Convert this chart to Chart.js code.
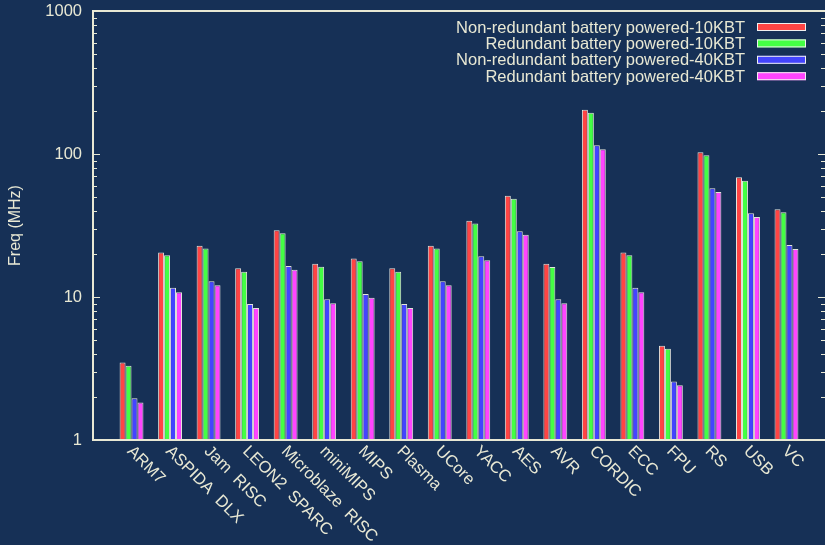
<!DOCTYPE html>
<html>
<head>
<meta charset="utf-8">
<script src="https://cdn.jsdelivr.net/npm/chart.js@4"></script>
<style>
  html, body { margin: 0; padding: 0; background: #163056; }
  #wrap { position: relative; width: 825px; height: 545px; }
</style>
</head>
<body>
<div id="wrap"><canvas id="chart"></canvas></div>
<script>
const categories = ['ARM7', 'ASPIDA DLX', 'Jam RISC', 'LEON2 SPARC', 'Microblaze RISC', 'miniMIPS', 'MIPS', 'Plasma',
  'UCore', 'YACC', 'AES', 'AVR', 'CORDIC', 'ECC', 'FPU', 'RS', 'USB', 'VC'];

const nonRed10 = [3.49, 20.5, 22.8, 15.9, 29.3, 17.1, 18.6, 15.9, 22.8, 34.2, 51.1, 17.1, 204, 20.5, 4.57, 102.8, 68.7, 41.1];
const red10    = [3.31, 19.6, 21.8, 15.0, 27.9, 16.3, 17.8, 15.0, 21.8, 32.6, 48.7, 16.2, 194.5, 19.6, 4.35, 97.9, 65.1, 39.1];
const nonRed40 = [1.96, 11.6, 12.9, 8.93, 16.5, 9.64, 10.5, 8.93, 12.9, 19.3, 28.8, 9.64, 115, 11.6, 2.56, 57.5, 38.5, 23.1];
const red40    = [1.83, 10.8, 12.1, 8.38, 15.5, 9.04, 9.89, 8.38, 12.1, 18.1, 27.2, 9.04, 108, 10.8, 2.41, 54.2, 36.3, 21.7];

const seriesLabels = ['Non-redundant battery powered-10KBT', 'Redundant battery powered-10KBT',
  'Non-redundant battery powered-40KBT', 'Redundant battery powered-40KBT'];
const yTicks = [1, 10, 100, 1000];

const COLORS = ['#ff4444', '#44ff44', '#4444ff', '#ff44ff'];
const INK = '#e8e8d4';
const FONT = 'Liberation Sans, Arial, sans-serif';

// one empty slot at each end so the groups sit like the gnuplot xrange
const pad = (arr) => [null, ...arr, null];

const frame = {
  id: 'frame',
  afterDraw(chart) {
    const { ctx, chartArea: a, scales: { x, y } } = chart;
    ctx.save();
    ctx.strokeStyle = INK;
    ctx.lineWidth = 2;
    ctx.strokeRect(a.left, a.top, a.right - a.left + 2, a.bottom - a.top);

    // inward ticks on both vertical sides
    ctx.lineWidth = 1;
    for (let d = 1; d < 1000; d *= 10) {
      for (let m = 1; m <= 10; m++) {
        const v = d * m;
        const py = Math.round(y.getPixelForValue(v)) + 0.5;
        const len = m === 1 || m === 10 ? 7 : 4;
        ctx.beginPath();
        ctx.moveTo(a.left, py); ctx.lineTo(a.left + len, py);
        ctx.moveTo(a.right, py); ctx.lineTo(a.right - len, py);
        ctx.stroke();
      }
    }

    // rotated category labels
    ctx.fillStyle = INK;
    ctx.font = '16.5px ' + FONT;
    ctx.textAlign = 'left';
    ctx.textBaseline = 'alphabetic';
    categories.forEach((c, i) => {
      const px = x.getPixelForValue(i + 1);
      ctx.save();
      ctx.translate(px - 5, a.bottom + 12);
      ctx.rotate(Math.PI / 4);
      ctx.fillText(c.replace(' ', '  '), 0, 0);
      ctx.restore();
    });

    // legend, text right-aligned with the swatch on its right
    ctx.textAlign = 'right';
    chart.data.datasets.forEach((ds, i) => {
      const cy = 27 + i * 16.4;
      ctx.fillStyle = INK;
      ctx.fillText(ds.label, 745, cy + 5.5);
      ctx.fillStyle = ds.backgroundColor;
      ctx.fillRect(757, cy - 4, 49, 8);
      ctx.strokeStyle = '#f0f0f0';
      ctx.strokeRect(757.5, cy - 3.5, 48, 7);
    });
    ctx.restore();
  },
};

new Chart(document.getElementById('chart'), {
  type: 'bar',
  data: {
    labels: pad(categories),
    datasets: [nonRed10, red10, nonRed40, red40].map((vals, i) => ({
      label: seriesLabels[i],
      data: pad(vals),
      backgroundColor: COLORS[i],
      borderColor: '#e4e4dc',
      borderWidth: 1,
      barPercentage: 1,
      categoryPercentage: 0.62,
    })),
  },
  options: {
    responsive: true,
    maintainAspectRatio: false,
    animation: false,
    layout: { padding: { top: 11, bottom: 105, left: 0, right: 0 } },
    plugins: { legend: { display: false }, tooltip: { enabled: false } },
    scales: {
      x: {
        type: 'category',
        display: false,
        offset: false,
      },
      y: {
        type: 'logarithmic',
        min: 1,
        max: 1000,
        afterBuildTicks: (axis) => { axis.ticks = yTicks.map((v) => ({ value: v })); },
        afterFit: (axis) => {
          axis.width = 93;
          axis.paddingTop = 0;
          axis.paddingBottom = 0;
        },
        grid: { display: false, drawTicks: false },
        border: { display: false },
        ticks: {
          color: INK,
          padding: 11,
          font: { family: FONT, size: 16.5 },
          callback: (v) => String(v),
        },
        title: {
          display: true,
          text: 'Freq (MHz)',
          color: INK,
          padding: { top: 6, bottom: 0 },
          font: { family: FONT, size: 16 },
        },
      },
    },
  },
  plugins: [frame],
});
</script>
</body>
</html>
